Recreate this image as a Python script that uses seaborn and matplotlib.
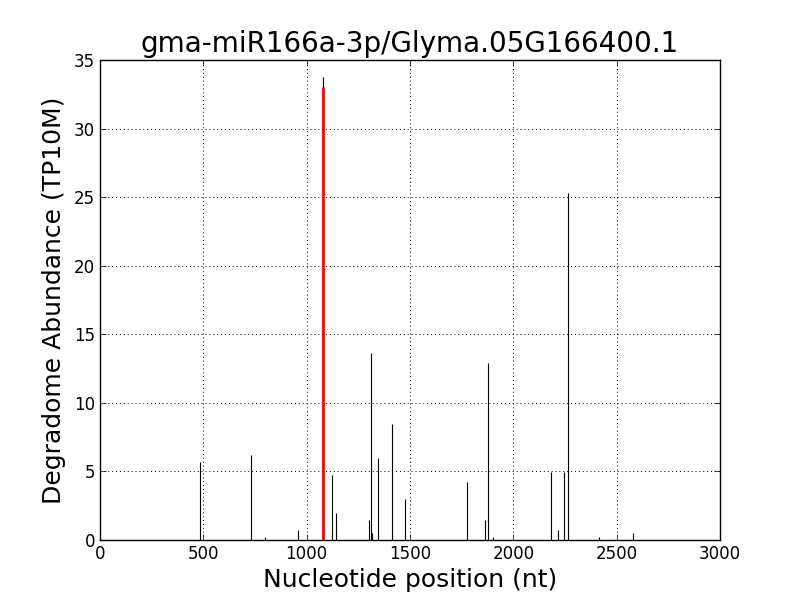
import seaborn as sns
import matplotlib.pyplot as plt

sns.set_theme(style="white", rc={
    "xtick.direction": "in", "ytick.direction": "in",
    "xtick.top": True, "ytick.right": True,
    "xtick.bottom": True, "ytick.left": True,
    "axes.edgecolor": "black", "axes.linewidth": 1.0,
    "xtick.major.size": 4, "ytick.major.size": 4,
    "xtick.major.width": 0.5, "ytick.major.width": 0.5,
    "text.color": "black", "axes.labelcolor": "black",
    "xtick.color": "black", "ytick.color": "black",
})
plt.rcParams['font.family'] = ['DejaVu Sans']

# Data
positions = [482, 733, 800, 960, 1077, 1124, 1140, 1303, 1311, 1317, 1346, 1411,
             1477, 1777, 1864, 1879, 1903, 2181, 2218, 2247, 2266, 2413, 2581]
abundance = [5.66, 6.2, 0.2, 0.73, 33.75, 4.74, 1.94, 1.46, 13.6, 0.49, 5.95, 8.46,
             2.97, 4.2, 1.46, 12.9, 0.2, 4.93, 0.73, 4.93, 25.3, 0.2, 0.49]
target_pos = [1077]
target_val = [33.0]

f, ax = plt.subplots(figsize=(8, 6), dpi=100)
f.subplots_adjust(left=0.125, right=0.9, bottom=0.1, top=0.9)

ax.vlines(positions, 0, abundance, colors="black", linewidth=0.8)
ax.vlines(target_pos, 0, target_val, colors="red", linewidth=2)

ax.set_xlim(0, 3000)
ax.set_ylim(0, 35)
ax.grid(True, color="black", linestyle=(0, (1, 3)), linewidth=0.7)
ax.set_axisbelow(True)
ax.tick_params(labelsize=12)

ax.set_title("gma-miR166a-3p/Glyma.05G166400.1", fontsize=20)
ax.set_xlabel("Nucleotide position (nt)", fontsize=18)
ax.set_ylabel("Degradome Abundance (TP10M)", fontsize=18, labelpad=6)

plt.savefig("out.png")
